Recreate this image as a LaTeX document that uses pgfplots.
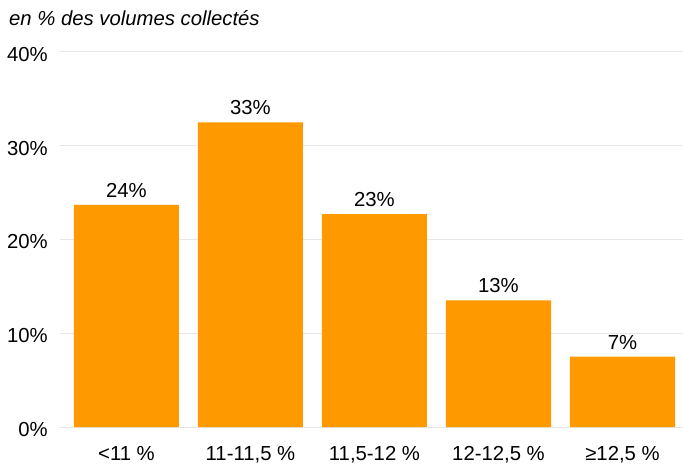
\documentclass[border=0pt]{standalone}
\usepackage{fontspec}
\setmainfont{Liberation Sans}
\usepackage{pgfplots}
\pgfplotsset{compat=1.18}

\definecolor{barorange}{HTML}{FF9900}
\definecolor{gridgray}{HTML}{E6E6E6}
\newcommand\lbl{\fontsize{20.3bp}{24bp}\selectfont}

\begin{document}
\begin{tikzpicture}
  % page = 683 x 466 bp, axis box from (60,52) to (683,427) in image pixels
  \path[use as bounding box] (-60bp,-39bp) rectangle (623bp,427bp);

  \begin{axis}[
      at={(0,0)}, anchor=south west,
      scale only axis,
      width=623bp, height=375bp,
      xmin=-0.536, xmax=4.488,
      ymin=0, ymax=40,
      axis line style={draw=none},
      ymajorgrids=true,
      grid style={gridgray, line width=1bp},
      ytick={0,10,20,30,40},
      yticklabel={\pgfmathprintnumber{\tick}\%},
      xtick=data,
      xticklabels={{<11 \%}, {11-11,5 \%}, {11,5-12 \%}, {12-12,5 \%}, {≥12,5 \%}},
      major tick length=0pt,
      tick style={draw=none},
      /pgf/number format/assume math mode=true,
      yticklabel style={font=\lbl, anchor=base east, inner sep=0pt, xshift=-12bp, yshift=-9.5bp},
      xticklabel style={font=\lbl, anchor=base, inner sep=0pt, yshift=-33bp},
      ybar, bar width=0.847,
      nodes near coords,
      point meta=explicit symbolic,
      every node near coord/.append style={font=\lbl, anchor=base, inner sep=0pt, yshift=7.5bp, black},
      clip=false,
  ]
  \addplot[fill=barorange, draw=none] coordinates {
    (0,23.7) [24\%]
    (1,32.5) [33\%]
    (2,22.7) [23\%]
    (3,13.5) [13\%]
    (4,7.5)  [7\%]
  };
  \end{axis}

  \node[anchor=base west, inner sep=0pt, font=\lbl\itshape] at (-51bp,401bp) {en \% des volumes collectés};
\end{tikzpicture}
\end{document}
